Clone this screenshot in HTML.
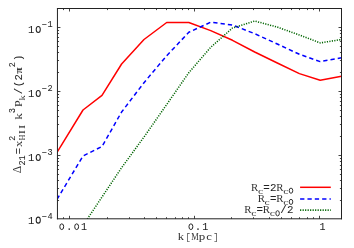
<!DOCTYPE html>
<html><head><meta charset="utf-8"><title>plot</title>
<style>
html,body{margin:0;padding:0;background:#fff;}
body{width:354px;height:248px;overflow:hidden;}
svg{display:block;will-change:transform;}
text{font-family:"Liberation Mono",monospace;fill:#242424;text-anchor:middle;}
.z{fill:none;stroke:#242424;}
.s{font-family:"Liberation Serif",serif;}
.b{font-weight:bold;}
.s{fill:#333;}
text{stroke:#242424;stroke-width:0.06px;}
.s{stroke-width:0;}
.l{fill:#6a6a6a;}
</style></head><body>
<svg width="354" height="248" viewBox="0 0 354 248">
<defs><clipPath id="c"><rect x="57.45" y="8.5" width="284.05" height="210.3"/></clipPath></defs>

<path d="M63.50 218.8 v-1.6 M63.50 8.5 v1.6 M69.50 218.8 v-3.0 M69.50 8.5 v3.0 M107.50 218.8 v-1.6 M107.50 8.5 v1.6 M129.50 218.8 v-1.6 M129.50 8.5 v1.6 M144.50 218.8 v-1.6 M144.50 8.5 v1.6 M156.50 218.8 v-1.6 M156.50 8.5 v1.6 M166.50 218.8 v-1.6 M166.50 8.5 v1.6 M175.50 218.8 v-1.6 M175.50 8.5 v1.6 M182.50 218.8 v-1.6 M182.50 8.5 v1.6 M188.50 218.8 v-1.6 M188.50 8.5 v1.6 M194.50 218.8 v-3.0 M194.50 8.5 v3.0 M231.50 218.8 v-1.6 M231.50 8.5 v1.6 M253.50 218.8 v-1.6 M253.50 8.5 v1.6 M269.50 218.8 v-1.6 M269.50 8.5 v1.6 M281.50 218.8 v-1.6 M281.50 8.5 v1.6 M291.50 218.8 v-1.6 M291.50 8.5 v1.6 M299.50 218.8 v-1.6 M299.50 8.5 v1.6 M307.50 218.8 v-1.6 M307.50 8.5 v1.6 M313.50 218.8 v-1.6 M313.50 8.5 v1.6 M319.50 218.8 v-3.0 M319.50 8.5 v3.0 M57.45 200.50 h1.6 M341.5 200.50 h-1.6 M57.45 188.50 h1.6 M341.5 188.50 h-1.6 M57.45 180.50 h1.6 M341.5 180.50 h-1.6 M57.45 174.50 h1.6 M341.5 174.50 h-1.6 M57.45 169.50 h1.6 M341.5 169.50 h-1.6 M57.45 165.50 h1.6 M341.5 165.50 h-1.6 M57.45 161.50 h1.6 M341.5 161.50 h-1.6 M57.45 158.50 h1.6 M341.5 158.50 h-1.6 M57.45 155.50 h3.0 M341.5 155.50 h-3.0 M57.45 136.50 h1.6 M341.5 136.50 h-1.6 M57.45 124.50 h1.6 M341.5 124.50 h-1.6 M57.45 116.50 h1.6 M341.5 116.50 h-1.6 M57.45 110.50 h1.6 M341.5 110.50 h-1.6 M57.45 105.50 h1.6 M341.5 105.50 h-1.6 M57.45 101.50 h1.6 M341.5 101.50 h-1.6 M57.45 97.50 h1.6 M341.5 97.50 h-1.6 M57.45 94.50 h1.6 M341.5 94.50 h-1.6 M57.45 91.50 h3.0 M341.5 91.50 h-3.0 M57.45 72.50 h1.6 M341.5 72.50 h-1.6 M57.45 60.50 h1.6 M341.5 60.50 h-1.6 M57.45 52.50 h1.6 M341.5 52.50 h-1.6 M57.45 46.50 h1.6 M341.5 46.50 h-1.6 M57.45 41.50 h1.6 M341.5 41.50 h-1.6 M57.45 37.50 h1.6 M341.5 37.50 h-1.6 M57.45 33.50 h1.6 M341.5 33.50 h-1.6 M57.45 30.50 h1.6 M341.5 30.50 h-1.6 M57.45 27.50 h3.0 M341.5 27.50 h-3.0" stroke="#444" stroke-width="1" fill="none"/>
<g clip-path="url(#c)" fill="none" stroke-linejoin="round">
<polyline points="57.0,152.4 83.0,110.0 102.0,95.4 121.6,64.0 144.0,39.5 166.7,22.5 188.8,22.5 210.7,30.6 232.5,40.3 254.7,52.0 277.3,63.0 299.4,73.6 320.2,80.2 341.5,76.3" stroke="#ff0000" stroke-width="1.5"/>
<polyline points="57.0,199.4 83.0,156.0 102.0,146.5 121.6,112.0 144.0,82.7 166.7,55.7 188.8,32.3 210.7,22.2 232.5,25.0 254.7,33.7 277.3,44.0 299.4,54.3 320.2,61.6 341.5,57.8" stroke="#0000ff" stroke-width="1.5" stroke-dasharray="4.3 3.05"/>
<polyline points="57.0,265.0 83.0,225.5 102.0,197.0 121.6,167.7 144.0,137.0 166.7,104.5 188.8,72.7 210.7,47.3 232.5,28.0 254.7,21.0 277.3,27.1 299.4,35.0 320.2,42.9 341.5,39.5" stroke="#006400" stroke-width="1.55" stroke-dasharray="1.15 1.35"/>
</g>
<path d="M56.95 8.5 H342.0 M341.5 8.5 V219.3 M342.0 218.8 H56.95 M57.45 219.3 V8.5" fill="none" stroke="#222" stroke-width="1.0"/>
<ellipse class="z" cx="61.75" cy="226.70" rx="1.95" ry="2.85" stroke-width="1.00"/>
<text transform="translate(69.20,229.90)" font-size="10.0">.</text>
<ellipse class="z" cx="76.65" cy="226.70" rx="1.95" ry="2.85" stroke-width="1.00"/>
<text transform="translate(84.10,229.90)" font-size="10.0">1</text>
<ellipse class="z" cx="190.90" cy="226.70" rx="1.95" ry="2.85" stroke-width="1.00"/>
<text transform="translate(198.10,229.90)" font-size="10.0">.</text>
<text transform="translate(205.30,229.90)" font-size="10.0">1</text>
<text transform="translate(322.50,229.90)" font-size="10.0">1</text>
<text class="s" transform="translate(181.00,239.90) scale(1.22,1)" font-size="10.3">k</text>
<text class="l" transform="translate(188.00,239.60)" font-size="9.3">[</text>
<text class="s" transform="translate(195.00,239.90) scale(0.86,1)" font-size="9.8">M</text>
<text class="s" transform="translate(202.00,239.90) scale(1.3,1)" font-size="10.0">p</text>
<text class="s" transform="translate(209.00,239.90) scale(1.32,1)" font-size="9.7">c</text>
<text class="l" transform="translate(216.00,239.60)" font-size="9.3">]</text>
<text transform="translate(31.10,32.93)" font-size="10.5">1</text>
<ellipse class="z" cx="38.25" cy="29.57" rx="2.05" ry="3.00" stroke-width="1.04"/>
<text transform="translate(44.10,27.13)" font-size="8.6">−</text>
<text transform="translate(50.00,27.13)" font-size="8.6">1</text>
<text transform="translate(31.10,96.93)" font-size="10.5">1</text>
<ellipse class="z" cx="38.25" cy="93.57" rx="2.05" ry="3.00" stroke-width="1.04"/>
<text transform="translate(44.10,91.13)" font-size="8.6">−</text>
<text transform="translate(50.00,91.13)" font-size="8.6">2</text>
<text transform="translate(31.10,160.93)" font-size="10.5">1</text>
<ellipse class="z" cx="38.25" cy="157.57" rx="2.05" ry="3.00" stroke-width="1.04"/>
<text transform="translate(44.10,155.13)" font-size="8.6">−</text>
<text transform="translate(50.00,155.13)" font-size="8.6">3</text>
<text transform="translate(31.10,223.50)" font-size="10.5">1</text>
<ellipse class="z" cx="38.25" cy="220.14" rx="2.05" ry="3.00" stroke-width="1.04"/>
<text transform="translate(44.10,218.90)" font-size="8.6">−</text>
<text transform="translate(50.00,218.90)" font-size="8.6">4</text>
<text class="s" transform="translate(21.40,169.50) rotate(-90)" font-size="11.6">Δ</text>
<text transform="translate(25.40,162.90) rotate(-90)" font-size="8.6">2</text>
<text transform="translate(25.40,158.00) rotate(-90)" font-size="8.6">1</text>
<text transform="translate(22.00,151.00) rotate(-90)" font-size="10.6">=</text>
<text class="s" transform="translate(22.00,143.80) rotate(-90) scale(1.15,1)" font-size="11.13">x</text>
<text transform="translate(15.00,138.30) rotate(-90)" font-size="8.3">2</text>
<text class="s" transform="translate(25.20,137.40) rotate(-90) scale(0.92,1)" font-size="8.3">H</text>
<text class="s" transform="translate(25.20,132.10) rotate(-90) scale(1.5,1)" font-size="8.3">I</text>
<text class="s" transform="translate(25.20,126.80) rotate(-90) scale(1.5,1)" font-size="8.3">I</text>
<text class="s" transform="translate(22.00,116.40) rotate(-90) scale(1.22,1)" font-size="10.92">k</text>
<text transform="translate(15.00,110.50) rotate(-90)" font-size="8.3">3</text>
<text class="s" transform="translate(22.00,103.70) rotate(-90) scale(1.08,1)" font-size="11.13">P</text>
<text class="s" transform="translate(25.40,97.90) rotate(-90) scale(1.22,1)" font-size="8.55">k</text>
<text transform="translate(22.00,91.20) rotate(-90)" font-size="10.6">/</text>
<text transform="translate(22.00,84.10) rotate(-90)" font-size="10.6">(</text>
<text transform="translate(22.00,77.30) rotate(-90)" font-size="10.6">2</text>
<text class="s b" transform="translate(22.00,70.50) rotate(-90) scale(1.1,1)" font-size="10.6">π</text>
<text transform="translate(15.00,64.70) rotate(-90)" font-size="8.3">2</text>
<text transform="translate(22.00,57.90) rotate(-90)" font-size="10.6">)</text>
<text class="s" transform="translate(254.55,191.00)" font-size="10.8">R</text>
<text class="s" transform="translate(260.50,193.60) scale(1.32,1)" font-size="8.83">c</text>
<text transform="translate(266.45,191.00)" font-size="10.8">=</text>
<text transform="translate(273.15,191.00)" font-size="10.8">2</text>
<text class="s" transform="translate(279.85,191.00)" font-size="10.8">R</text>
<text class="s" transform="translate(285.80,193.60) scale(1.32,1)" font-size="8.83">c</text>
<ellipse class="z" cx="291.00" cy="190.69" rx="1.77" ry="2.59" stroke-width="0.92"/>
<text class="s" transform="translate(261.25,201.50)" font-size="10.8">R</text>
<text class="s" transform="translate(267.20,204.80) scale(1.32,1)" font-size="8.83">c</text>
<text transform="translate(273.15,201.50)" font-size="10.8">=</text>
<text class="s" transform="translate(279.85,201.50)" font-size="10.8">R</text>
<text class="s" transform="translate(285.80,204.80) scale(1.32,1)" font-size="8.83">c</text>
<ellipse class="z" cx="291.00" cy="201.89" rx="1.77" ry="2.59" stroke-width="0.92"/>
<text class="s" transform="translate(247.85,212.60)" font-size="10.8">R</text>
<text class="s" transform="translate(253.80,216.20) scale(1.32,1)" font-size="8.83">c</text>
<text transform="translate(259.75,212.60)" font-size="10.8">=</text>
<text class="s" transform="translate(266.45,212.60)" font-size="10.8">R</text>
<text class="s" transform="translate(272.40,216.20) scale(1.32,1)" font-size="8.83">c</text>
<ellipse class="z" cx="277.60" cy="213.29" rx="1.77" ry="2.59" stroke-width="0.92"/>
<text transform="translate(283.55,212.60)" font-size="10.8">/</text>
<text transform="translate(290.25,212.60)" font-size="10.8">2</text>
<path d="M300.1 187.3 H330.8" stroke="#ff0000" stroke-width="1.5" fill="none"/>
<path d="M300.1 199.0 H330.8" stroke="#0000ff" stroke-width="1.5" stroke-dasharray="4.3 3.05" fill="none"/>
<path d="M300.1 210.1 H330.8" stroke="#006400" stroke-width="1.55" stroke-dasharray="1.15 1.35" fill="none"/>
</svg></body></html>
